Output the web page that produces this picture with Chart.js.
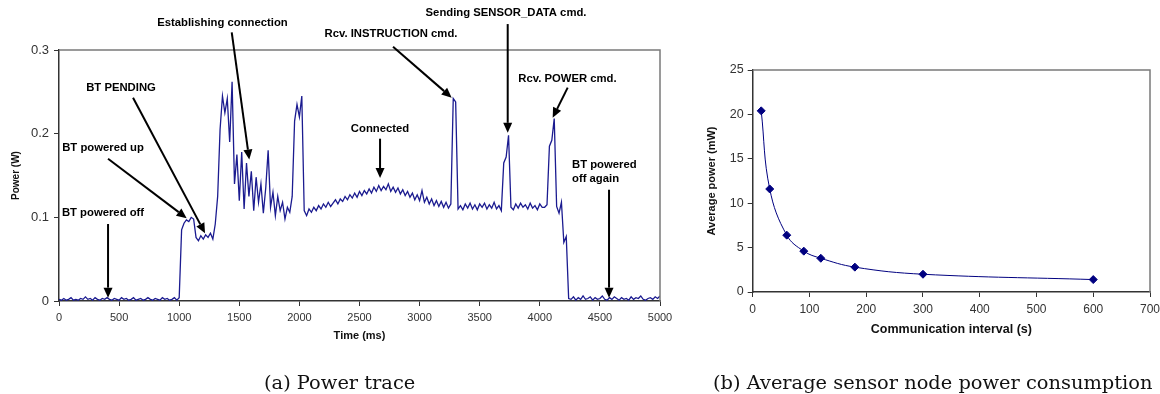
<!DOCTYPE html>
<html>
<head>
<meta charset="utf-8">
<script src="https://cdn.jsdelivr.net/npm/chart.js@4.4.1/dist/chart.umd.min.js"></script>
<style>
  body { margin: 0; background: #fff; width: 1160px; height: 394px; position: relative; overflow: hidden; }
  #left { position: absolute; left: 0; top: 0; width: 690px; height: 394px; }
  #right { position: absolute; left: 700px; top: 0; width: 470px; height: 394px; }
  .cap { position: absolute; top: 371px; font-family: "DejaVu Serif", serif; font-size: 19.4px; line-height: 24px; white-space: nowrap; color: #111; }
</style>
</head>
<body>
<div id="left"><canvas id="trace"></canvas></div>
<div id="right"><canvas id="avg"></canvas></div>
<div class="cap" style="left:264px">(a) Power trace</div>
<div class="cap" style="left:713px">(b) Average sensor node power consumption</div>
<script>
// power trace, one sample every 20 ms from 0 to 5000 ms (W)
const SAMPLE_MS = 20;
const powerW = [
  // 0 - 980 ms, BT off
  0.002, 0.001, 0.003, 0.001, 0.002, 0.004, 0.001, 0.002, 0.001, 0.003,
  0.002, 0.005, 0.002, 0.003, 0.001, 0.004, 0.002, 0.001, 0.003, 0.002,
  0.004, 0.002, 0.001, 0.003, 0.002, 0.001, 0.004, 0.002, 0.003, 0.001,
  0.002, 0.004, 0.001, 0.002, 0.003, 0.001, 0.002, 0.004, 0.002, 0.001,
  0.003, 0.002, 0.001, 0.004, 0.002, 0.003, 0.001, 0.002, 0.004, 0.001,
  // 1000 - 4220 ms
  0.004, 0.085, 0.093, 0.097, 0.095, 0.100, 0.098, 0.076, 0.072, 0.078,
  0.074, 0.079, 0.076, 0.081, 0.074, 0.092, 0.125, 0.205, 0.245, 0.225,
  0.242, 0.190, 0.262, 0.140, 0.175, 0.120, 0.178, 0.110, 0.165, 0.125,
  0.155, 0.108, 0.148, 0.118, 0.140, 0.105, 0.135, 0.180, 0.112, 0.130,
  0.102, 0.125, 0.108, 0.118, 0.098, 0.112, 0.106, 0.125, 0.215, 0.235,
  0.220, 0.245, 0.108, 0.102, 0.110, 0.106, 0.112, 0.108, 0.114, 0.110,
  0.116, 0.112, 0.118, 0.113, 0.117, 0.121, 0.116, 0.122, 0.119, 0.125,
  0.121, 0.127, 0.123, 0.129, 0.124, 0.131, 0.126, 0.132, 0.128, 0.134,
  0.129, 0.136, 0.131, 0.138, 0.132, 0.137, 0.133, 0.140, 0.131, 0.136,
  0.130, 0.135, 0.128, 0.133, 0.126, 0.131, 0.124, 0.129, 0.121, 0.127,
  0.120, 0.132, 0.118, 0.124, 0.116, 0.122, 0.114, 0.120, 0.113, 0.119,
  0.112, 0.118, 0.111, 0.116, 0.242, 0.238, 0.110, 0.114, 0.109, 0.116,
  0.111, 0.117, 0.110, 0.115, 0.109, 0.116, 0.112, 0.117, 0.110, 0.115,
  0.111, 0.118, 0.110, 0.114, 0.108, 0.165, 0.172, 0.198, 0.112, 0.109,
  0.116, 0.111, 0.117, 0.112, 0.115, 0.110, 0.117, 0.111, 0.114, 0.109,
  0.116, 0.112, 0.112, 0.115, 0.185, 0.192, 0.218, 0.113, 0.105, 0.118,
  0.070, 0.077,
  // 4240 - 5000 ms, BT off again
  0.003, 0.002, 0.005, 0.001, 0.004, 0.002, 0.006, 0.002, 0.003, 0.005,
  0.001, 0.004, 0.002, 0.003, 0.006, 0.002, 0.001, 0.004, 0.002, 0.005,
  0.003, 0.001, 0.004, 0.002, 0.003, 0.001, 0.005, 0.002, 0.004, 0.003,
  0.006, 0.002, 0.001, 0.003, 0.004, 0.002, 0.005, 0.003, 0.006
];

// average power vs communication interval
const intervalS = [15, 30, 60, 90, 120, 180, 300, 600];
const avgPowerMW = [20.4, 11.6, 6.4, 4.6, 3.8, 2.8, 2.0, 1.4];

// annotations on the trace, in data units (ms, W)
const notes = [
  { lines: ['Establishing connection'], at: [1360, 0.333], from: [1437, 0.321], to: [1583, 0.169] },
  { lines: ['Rcv. INSTRUCTION cmd.'], at: [2762, 0.319], from: [2779, 0.304], to: [3267, 0.243] },
  { lines: ['Sending SENSOR_DATA cmd.'], at: [3719, 0.344], from: [3733, 0.331], to: [3733, 0.201] },
  { lines: ['Rcv. POWER cmd.'], at: [4230, 0.266], from: [4232, 0.255], to: [4107, 0.219] },
  { lines: ['Connected'], at: [2671, 0.206], from: [2671, 0.194], to: [2671, 0.147] },
  { lines: ['BT powered up'], at: [366, 0.183], from: [408, 0.170], to: [1062, 0.099] },
  { lines: ['BT PENDING'], at: [516, 0.255], from: [616, 0.243], to: [1215, 0.081] },
  { lines: ['BT powered off'], at: [366, 0.105], from: [408, 0.092], to: [408, 0.004] },
  { lines: ['BT powered', 'off again'], at: [4268, 0.163], align: 'left', from: [4576, 0.133], to: [4576, 0.004] }
];

const FAMILY = 'Liberation Sans, Arial, sans-serif';
const titleFont = { family: FAMILY, size: 11, weight: 'bold' };

const framePlugin = {
  id: 'frame',
  afterDraw(chart) {
    const { ctx, chartArea: a } = chart;
    ctx.save();
    ctx.strokeStyle = '#7a7a7a';
    ctx.lineWidth = 1.5;
    ctx.beginPath();
    ctx.moveTo(a.left, a.top);
    ctx.lineTo(a.right, a.top);
    ctx.lineTo(a.right, a.bottom);
    ctx.stroke();
    ctx.restore();
  }
};

const notesPlugin = {
  id: 'notes',
  afterDraw(chart) {
    const { ctx } = chart;
    const xs = chart.scales.x, ys = chart.scales.y;
    ctx.save();
    ctx.font = 'bold 11.3px ' + FAMILY;
    ctx.fillStyle = '#000';
    ctx.strokeStyle = '#000';
    ctx.textBaseline = 'middle';
    notes.forEach(n => {
      const tx = xs.getPixelForValue(n.at[0]);
      const ty = ys.getPixelForValue(n.at[1]);
      ctx.textAlign = n.align || 'center';
      n.lines.forEach((l, i) => ctx.fillText(l, tx, ty + i * 14));
      const x1 = xs.getPixelForValue(n.from[0]), y1 = ys.getPixelForValue(n.from[1]);
      const x2 = xs.getPixelForValue(n.to[0]), y2 = ys.getPixelForValue(n.to[1]);
      const ang = Math.atan2(y2 - y1, x2 - x1);
      const len = 10, half = 4.5;
      const bx = x2 - len * Math.cos(ang), by = y2 - len * Math.sin(ang);
      ctx.lineWidth = 2;
      ctx.beginPath();
      ctx.moveTo(x1, y1);
      ctx.lineTo(bx, by);
      ctx.stroke();
      ctx.beginPath();
      ctx.moveTo(x2, y2);
      ctx.lineTo(bx + half * Math.sin(ang), by - half * Math.cos(ang));
      ctx.lineTo(bx - half * Math.sin(ang), by + half * Math.cos(ang));
      ctx.closePath();
      ctx.fill();
    });
    ctx.restore();
  }
};

function axisGrid() {
  return { display: true, drawOnChartArea: false, drawTicks: true, tickLength: 5, color: '#333', lineWidth: 1 };
}

new Chart(document.getElementById('trace'), {
  type: 'line',
  data: {
    datasets: [{
      data: powerW.map((v, i) => ({ x: i * SAMPLE_MS, y: v })),
      borderColor: '#1b1b90',
      borderWidth: 1.3,
      pointRadius: 0,
      tension: 0
    }]
  },
  options: {
    responsive: true,
    maintainAspectRatio: false,
    animation: false,
    events: [],
    layout: { padding: { left: 0, top: 50, right: 30, bottom: 47 } },
    plugins: { legend: { display: false }, tooltip: { enabled: false } },
    scales: {
      x: {
        type: 'linear', min: 0, max: 5000,
        afterFit: s => { s.height = 46; },
        ticks: { stepSize: 500, font: { family: FAMILY, size: 11 }, color: '#333', padding: 5, maxRotation: 0, callback: v => String(v) },
        grid: axisGrid(),
        border: { color: '#333', width: 1.5 },
        title: { display: true, text: 'Time (ms)', font: titleFont, color: '#111', padding: { top: 4, bottom: 4 } }
      },
      y: {
        min: 0, max: 0.3,
        afterFit: s => { s.width = 59; },
        ticks: { stepSize: 0.1, font: { family: FAMILY, size: 13 }, color: '#333', padding: 5, callback: v => String(+v.toFixed(1)) },
        grid: axisGrid(),
        border: { color: '#333', width: 1.5 },
        title: { display: true, text: 'Power (W)', font: { ...titleFont, size: 10 }, color: '#111', padding: { top: 10, bottom: 4 } }
      }
    }
  },
  plugins: [framePlugin, notesPlugin]
});

new Chart(document.getElementById('avg'), {
  type: 'line',
  data: {
    datasets: [{
      data: intervalS.map((x, i) => ({ x, y: avgPowerMW[i] })),
      borderColor: '#000080',
      backgroundColor: '#000080',
      borderWidth: 1,
      pointStyle: 'rectRot',
      pointRadius: 4,
      tension: 0.4
    }]
  },
  options: {
    responsive: true,
    maintainAspectRatio: false,
    animation: false,
    events: [],
    layout: { padding: { left: 0, top: 70, right: 20, bottom: 53 } },
    plugins: { legend: { display: false }, tooltip: { enabled: false } },
    scales: {
      x: {
        type: 'linear', min: 0, max: 700,
        afterFit: s => { s.height = 49; },
        ticks: { stepSize: 100, font: { family: FAMILY, size: 12 }, color: '#333', padding: 5, maxRotation: 0 },
        grid: axisGrid(),
        border: { color: '#333', width: 1.5 },
        title: { display: true, text: 'Communication interval (s)', font: { ...titleFont, size: 12.5 }, color: '#111', padding: { top: 4, bottom: 4 } }
      },
      y: {
        min: 0, max: 25,
        afterFit: s => { s.width = 52.7; },
        ticks: { stepSize: 5, font: { family: FAMILY, size: 12.5 }, color: '#333', padding: 4 },
        grid: axisGrid(),
        border: { color: '#333', width: 1.5 },
        title: { display: true, text: 'Average power (mW)', font: titleFont, color: '#111', padding: { top: 5, bottom: 4 } }
      }
    }
  },
  plugins: [framePlugin]
});
</script>
</body>
</html>
